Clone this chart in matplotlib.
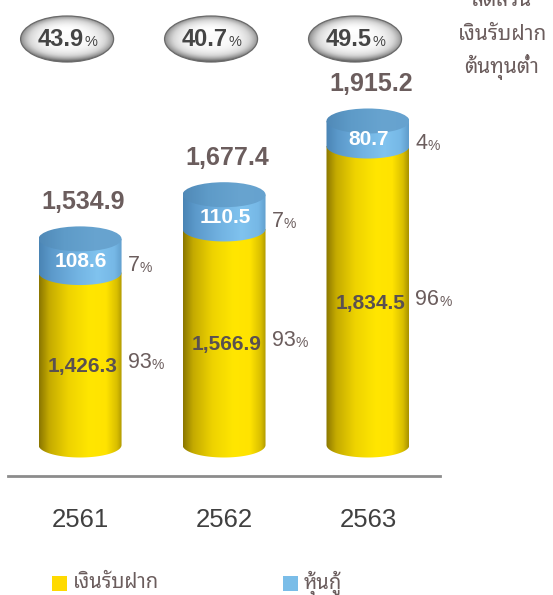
import numpy as np
import matplotlib
matplotlib.use("Agg")
import matplotlib.pyplot as plt
from matplotlib import font_manager
from matplotlib.colors import LinearSegmentedColormap
from matplotlib.patches import Ellipse, PathPatch, Rectangle
from matplotlib.path import Path
from matplotlib.lines import Line2D

# ---------------- data ----------------
years = ["2561", "2562", "2563"]
deposits = [1426.3, 1566.9, 1834.5]
debentures = [108.6, 110.5, 80.7]
deposit_share = [93, 93, 96]
debenture_share = [7, 7, 4]
casa_ratio = [43.9, 40.7, 49.5]
series_names = ["เงินรับฝาก", "หุ้นกู้"]
side_title = ["สัดส่วน", "เงินรับฝาก", "ต้นทุนต่ำ"]

totals = np.add(deposits, debentures)


# ---------------- fonts ----------------
def thai_family():
    try:
        from fontTools.ttLib import TTFont
    except Exception:
        return None
    cands = []
    for fe in font_manager.fontManager.ttflist:
        try:
            tt = TTFont(fe.fname, fontNumber=0, lazy=True)
            cmap = tt.getBestCmap() or {}
            if 0x0E07 in cmap and 0x0E49 in cmap and 0x0E01 in cmap:
                cands.append(fe)
        except Exception:
            continue
    if not cands:
        return None

    def score(fe):
        w = fe.weight if isinstance(fe.weight, int) else 400
        return (fe.style != "normal", abs(w - 400), "Noto" not in fe.name)

    cands.sort(key=score)
    return cands[0].name


_th = thai_family()
THAI = [_th, "DejaVu Sans"] if _th else ["DejaVu Sans"]
NUM = ["Liberation Sans", "DejaVu Sans"]

# ---------------- layout ----------------
W_PX, H_PX = 553, 595
fig = plt.figure(figsize=(W_PX / 100, H_PX / 100), dpi=100)
ax = fig.add_axes([0, 0, 1, 1])
XMIN, XMAX = -0.556, 3.285
YMIN, YMAX = 386.1, 2305.5
BASE = 870.0
PXU_X = W_PX / (XMAX - XMIN)
PXU_Y = H_PX / (YMAX - YMIN)
BAR_W = 83 / PXU_X
ELL_H = 25 / PXU_Y


def py(ypix):
    return YMAX - ypix / PXU_Y


yellow_cm = LinearSegmentedColormap.from_list(
    "yel", [(0, "#8a7600"), (0.12, "#c4aa00"), (0.35, "#eed300"), (0.6, "#ffe600"),
            (0.8, "#ffe300"), (0.93, "#d9bf00"), (1.0, "#a89200")])
blue_cm = LinearSegmentedColormap.from_list(
    "blu", [(0, "#4a84b4"), (0.15, "#5c9acb"), (0.45, "#72b3e2"), (0.7, "#80c3ef"),
            (0.9, "#76b8e6"), (1.0, "#5f9ccb")])
top_cm = LinearSegmentedColormap.from_list(
    "top", [(0, "#5089b7"), (0.3, "#5e9bc8"), (0.7, "#68a4d0"), (1.0, "#66a2cf")])
oval_cm = LinearSegmentedColormap.from_list(
    "ov", [(0, "#4a4a4a"), (0.35, "#8c8c8c"), (0.7, "#d6d6d6"), (1.0, "#ffffff")])


def body_path(c, y0, y1, w, eh, n=80):
    t = np.linspace(np.pi, 2 * np.pi, n)
    xs = c + (w / 2) * np.cos(t)
    ys = y0 + (eh / 2) * np.sin(t)
    verts = [(c - w / 2, y1)] + list(zip(xs, ys)) + [(c + w / 2, y1), (c - w / 2, y1)]
    codes = [Path.MOVETO] + [Path.LINETO] * (len(verts) - 2) + [Path.CLOSEPOLY]
    return Path(verts, codes)


def grad_fill(clip_patch, cmap, extent, z):
    ax.add_patch(clip_patch)
    g = np.linspace(0, 1, 256).reshape(1, -1)
    im = ax.imshow(g, cmap=cmap, extent=extent, aspect="auto",
                   interpolation="bilinear", origin="lower", zorder=z)
    im.set_clip_path(clip_patch)


GRAY_TXT = "#6b5d5d"

for i in range(len(years)):
    c = i
    # yellow segment (deposits)
    p = PathPatch(body_path(c, BASE, deposits[i], BAR_W, ELL_H), fc="none", ec="none")
    grad_fill(p, yellow_cm, (c - BAR_W / 2, c + BAR_W / 2, BASE - ELL_H, deposits[i] + 1), 2)
    # blue segment (debentures)
    p = PathPatch(body_path(c, deposits[i], totals[i], BAR_W, ELL_H), fc="none", ec="none")
    grad_fill(p, blue_cm, (c - BAR_W / 2, c + BAR_W / 2, deposits[i] - ELL_H, totals[i] + 1), 3)
    # top cap
    e = Ellipse((c, totals[i]), BAR_W, ELL_H, fc="none", ec="none")
    grad_fill(e, top_cm, (c - BAR_W / 2, c + BAR_W / 2, totals[i] - ELL_H, totals[i] + ELL_H), 4)

    # total label
    ax.annotate(f"{totals[i]:,.1f}", xy=(c, totals[i]), xytext=(3, 37),
                textcoords="offset pixels", ha="center", va="center",
                fontsize=18, fontweight="bold", color=GRAY_TXT, family=NUM, zorder=6)
    # debenture value
    ax.annotate(f"{debentures[i]:,.1f}", xy=(c, (deposits[i] + totals[i]) / 2),
                xytext=(1, -6), textcoords="offset pixels", ha="center", va="center",
                fontsize=15, fontweight="bold", color="white", family=NUM, zorder=6)
    # deposit value
    ax.annotate(f"{deposits[i]:,.1f}", xy=(c, (BASE + deposits[i]) / 2),
                xytext=(3, -8), textcoords="offset pixels", ha="center", va="center",
                fontsize=15, fontweight="bold", color="#5a5050", family=NUM, zorder=6)
    # share labels
    for val, yy, dy in ((debenture_share[i], (deposits[i] + totals[i]) / 2, -10),
                        (deposit_share[i], (BASE + deposits[i]) / 2, -4)):
        t = ax.annotate(f"{val}", xy=(c + BAR_W / 2, yy), xytext=(6, dy),
                        textcoords="offset pixels", ha="left", va="center",
                        fontsize=15.5, color=GRAY_TXT, family=NUM, zorder=6)
        ax.annotate("%", xy=(1, 0), xycoords=t, xytext=(0, 1), textcoords="offset pixels",
                    ha="left", va="bottom", fontsize=10, color=GRAY_TXT, family=NUM, zorder=6)

    # year label
    ax.text(c, py(520), years[i], ha="center", va="center", fontsize=18.5,
            color="#404040", family=NUM)

    # CASA ratio ovals
    ox, oy = c - 0.09, py(39)
    ow, oh = 93 / PXU_X, 46 / PXU_Y
    oval = Ellipse((ox, oy), ow, oh, fc="none", ec="none")
    ax.add_patch(oval)
    nx, ny = 200, 100
    U, V = np.meshgrid(np.linspace(-1, 1, nx), np.linspace(-1, 1, ny))
    r = np.sqrt(U ** 2 + V ** 2)
    val_img = 0.97 - 0.6 * np.clip(r, 0, 1.2) ** 4 - 0.3 * np.clip(-V, 0, 1) ** 3
    val_img += 0.05 * np.exp(-((U + 0.1) ** 2 / 0.3 + (V - 0.5) ** 2 / 0.06))
    im = ax.imshow(np.clip(val_img, 0, 1), cmap=oval_cm, vmin=0, vmax=1,
                   extent=(ox - ow / 2, ox + ow / 2, oy - oh / 2, oy + oh / 2),
                   aspect="auto", origin="lower", interpolation="bilinear", zorder=4)
    im.set_clip_path(oval)
    ax.add_patch(Ellipse((ox, oy), ow, oh, fc="none", ec="#6a6a6a", lw=0.9, zorder=5))
    t = ax.annotate(f"{casa_ratio[i]:.1f}", xy=(ox, oy), xytext=(-6, 0),
                    textcoords="offset pixels", ha="center", va="center",
                    fontsize=17, fontweight="bold", color="#454545", family=NUM, zorder=6)
    ax.annotate("%", xy=(1, 0), xycoords=t, xytext=(0, 1), textcoords="offset pixels",
                ha="left", va="bottom", fontsize=10.5, color="#454545", family=NUM, zorder=6)

# baseline
fig.add_artist(Line2D([8 / W_PX, 440 / W_PX], [1 - 476 / H_PX] * 2,
                      transform=fig.transFigure, color="#8c8c8c", lw=2))

# side title (first line partly outside the top edge, as in the source)
for k, line in enumerate(side_title):
    fig.text(502 / W_PX, 1 - (1 + 33 * k) / H_PX, line, ha="center", va="center",
             fontsize=15, color=GRAY_TXT, family=THAI)

# legend
leg_cols = ["#FFDA00", "#7ABDE8"]
leg_x = [52, 283]
for name, col, lx in zip(series_names, leg_cols, leg_x):
    fig.add_artist(Rectangle((lx / W_PX, 1 - 591 / H_PX), 15 / W_PX, 15 / H_PX,
                             transform=fig.transFigure, fc=col, ec="none"))
    fig.text((lx + 21) / W_PX, 1 - 583 / H_PX, name, ha="left", va="center",
             fontsize=14.5, color=GRAY_TXT, family=THAI)

ax.set_xlim(XMIN, XMAX)
ax.set_ylim(YMIN, YMAX)
ax.axis("off")
fig.savefig("out.png", dpi=100)
